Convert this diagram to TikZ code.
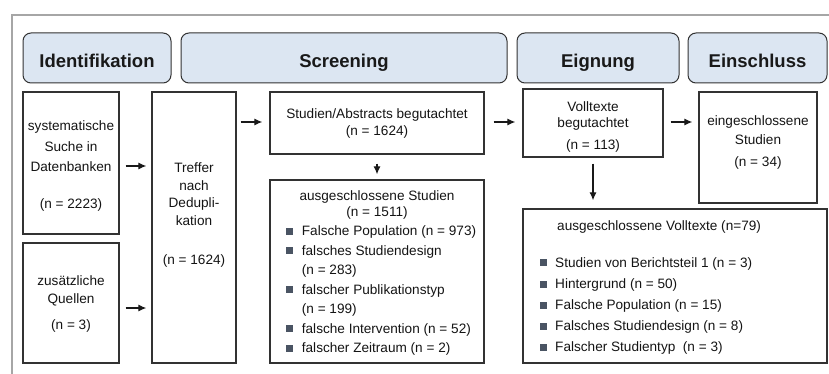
\documentclass[tikz,border=0pt]{standalone}
\usepackage{fontspec}
\setmainfont{Liberation Sans}
\usetikzlibrary{arrows.meta}

\definecolor{phaseblue}{RGB}{220,230,242}
\definecolor{boxline}{RGB}{50,50,50}
\definecolor{framegray}{RGB}{166,166,166}
\definecolor{bulletgray}{RGB}{74,84,99}
\newcommand{\sqb}{\makebox[15.7pt][l]{\textcolor{bulletgray}{\rule[1pt]{7pt}{7pt}}}}
\newcommand{\ind}{\hspace*{15.7pt}}

\begin{document}
\begin{tikzpicture}[x=1pt, y=-1pt,
    phase/.style={draw=boxline, fill=phaseblue, rounded corners=8pt, line width=1pt,
        minimum height=50pt, inner sep=0pt, text height=19.4pt, text depth=0pt,
        font=\fontsize{18.5}{22}\selectfont\bfseries, text=black!90},
    box/.style={draw=boxline, line width=1.3pt, inner sep=0pt},
    txt/.style={anchor=north, align=center, inner sep=0pt, text=black!92,
        font=\fontsize{13.6}{#1}\selectfont},
    arr/.style={-{Latex[length=8pt,width=7pt]}, line width=1.2pt, draw=black!90}]
        \useasboundingbox (0,0) rectangle (829,374);
        % frame
        \draw[framegray, line width=2pt] (12,374) -- (12,15) -- (829,15);

        % phases
        \node[phase, minimum width=148pt] (ident) at (97,58) {Identifikation};
        \node[phase, minimum width=326pt] (screen) at (344,58) {Screening};
        \node[phase, minimum width=162pt] (eign) at (598,58) {Eignung};
        \node[phase, minimum width=139pt] (einschl) at (757.5,58) {Einschluss};

        % boxes
        \node[box, minimum width=96pt, minimum height=142pt] (suche) at (71,163) {};
        \node[box, minimum width=96pt, minimum height=120pt] (quellen) at (71,303) {};
        \node[box, minimum width=84pt, minimum height=271pt] (treffer) at (194,227.5) {};
        \node[box, minimum width=214pt, minimum height=62pt] (abstracts) at (377,123) {};
        \node[box, minimum width=214pt, minimum height=183pt] (ausstud) at (377,271.5) {};
        \node[box, minimum width=140pt, minimum height=68pt] (volltexte) at (593,123) {};
        \node[box, minimum width=304pt, minimum height=154pt] (ausvoll) at (675,286) {};
        \node[box, minimum width=118pt, minimum height=111pt] (studien) at (758,147.5) {};

        % box texts
        \node[txt=20.5] (suche-t) at (71,120.6) {systematische\\Suche in\\Datenbanken\\[16pt](n = 2223)};
        \node[txt=17.6] (quellen-t) at (71,275.6) {zusätzliche\\Quellen\\[9pt](n = 3)};
        \node[txt=17.5] (treffer-t) at (194,162.6) {Treffer\\nach\\Dedupli-\\kation\\[22pt](n = 1624)};
        \node[txt=16.7] (abstracts-t) at (377,108.6) {Studien/Abstracts begutachtet\\(n = 1624)};
        \node[txt=16] (volltexte-t) at (593,101) {Volltexte\\begutachtet\\[6pt](n = 113)};
        \node[txt=18.5] (studien-t) at (758,115.6) {eingeschlossene\\Studien\\[4pt](n = 34)};
        \node[txt=16] (ausstud-t) at (377,190.6) {ausgeschlossene Studien\\(n = 1511)};
        \node[txt=19.5, anchor=north west, align=left] (ausstud-l) at (286,225.8) {%
            \sqb Falsche Population (n = 973)\\
            \sqb falsches Studiendesign\\
            \ind(n = 283)\\
            \sqb falscher Publikationstyp\\
            \ind(n = 199)\\
            \sqb falsche Intervention (n = 52)\\
            \sqb falscher Zeitraum (n = 2)};
        \node[txt=19, anchor=north west, align=left] (ausvoll-t) at (557,220.6) {ausgeschlossene Volltexte (n=79)};
        \node[txt=21.1, anchor=north west, align=left] (ausvoll-l) at (539.3,257.4) {%
            \sqb Studien von Berichtsteil 1 (n = 3)\\
            \sqb Hintergrund (n = 50)\\
            \sqb Falsche Population (n = 15)\\
            \sqb Falsches Studiendesign (n = 8)\\
            \sqb Falscher Studientyp~ (n = 3)};

        % arrows
        \draw[arr, shorten <=6pt, shorten >=5pt] ([yshift=-3pt]suche.east) -- ([yshift=-3pt]suche.east -| treffer.west);
        \draw[arr, shorten <=6pt, shorten >=5pt] ([yshift=-5pt]quellen.east) -- ([yshift=-5pt]quellen.east -| treffer.west);
        \draw[arr, shorten <=4pt, shorten >=7pt] ([yshift=1pt]abstracts.west -| treffer.east) -- ([yshift=1pt]abstracts.west);
        \draw[arr, shorten <=9pt, shorten >=7pt] ([yshift=1pt]abstracts.east) -- ([yshift=1pt]abstracts.east -| volltexte.west);
        \draw[arr, shorten <=7pt, shorten >=6pt] ([yshift=1pt]volltexte.east) -- ([yshift=1pt]volltexte.east -| studien.west);
        \draw[arr, shorten <=9pt, shorten >=5pt] (abstracts.south) -- (ausstud.north);
        \draw[arr, shorten <=6pt, shorten >=8pt] (volltexte.south) -- (volltexte.south |- ausvoll.north);
    \end{tikzpicture}
\end{document}
